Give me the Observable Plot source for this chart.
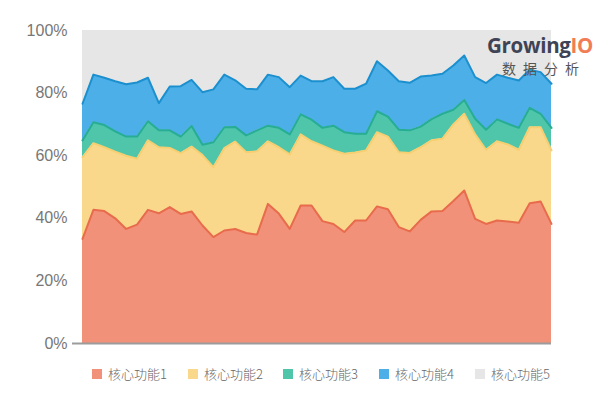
<!DOCTYPE html>
<html><head><meta charset="utf-8">
<script src="https://cdn.jsdelivr.net/npm/d3@7"></script>
<script src="https://cdn.jsdelivr.net/npm/@observablehq/plot@0.6"></script>
<style>
body{margin:0;background:#fff;}
#wrap{position:relative;width:599px;height:394px;overflow:hidden;background:#fff;}
#chart{position:absolute;left:0;top:0;}
#legend{position:absolute;left:0;top:364px;width:599px;height:20px;font-family:"Noto Sans CJK SC","Noto Sans",sans-serif;font-size:13px;font-weight:300;color:#666;}
.item{position:absolute;top:0;height:20px;line-height:20px;white-space:nowrap;}
.sw{display:inline-block;width:10px;height:10px;vertical-align:middle;margin-right:6px;position:relative;top:-1px;}
#logo{position:absolute;left:487px;top:31px;font-family:"Open Sans","Lato",sans-serif;}
#logo .g{font-size:20.5px;font-weight:700;color:#3e4456;letter-spacing:-0.3px;line-height:28px;}
#logo .g span{color:#f07d55;}
#logo .s{font-family:"Noto Sans CJK SC",sans-serif;font-size:14px;color:#555;letter-spacing:7px;margin-left:15px;line-height:18px;}
</style></head><body>
<div id="wrap"><div id="chart"></div><div id="legend"></div>
<div id="logo"><div class="g">Growing<span>IO</span></div><div class="s">数据分析</div></div>
</div>
<script>
const seriesNames = ["核心功能1","核心功能2","核心功能3","核心功能4","核心功能5"];
const s1 = [33.4,42.7,42.3,40.0,36.6,38.0,42.7,41.6,43.6,41.4,42.2,37.7,34.0,36.1,36.6,35.3,34.8,44.6,41.5,36.6,44.1,44.1,39.1,38.2,35.6,39.3,39.3,43.8,42.9,37.2,35.8,39.5,42.2,42.3,45.5,48.9,39.8,38.2,39.3,39.0,38.6,44.8,45.4,38.2];
const s2 = [26.1,21.3,20.4,21.3,23.4,21.0,22.2,21.1,18.9,19.4,20.7,22.5,22.3,26.3,27.9,25.8,26.6,20.0,21.2,23.8,22.7,20.5,24.1,23.5,25.0,21.7,22.4,23.7,23.2,23.9,25.1,23.2,22.7,23.1,24.5,24.5,27.0,23.7,25.3,24.6,23.3,24.3,23.7,23.5];
const s3 = [5.4,6.7,7.1,6.5,6.1,7.1,6.1,5.4,5.6,5.3,6.6,3.3,8.0,6.7,4.7,5.4,6.7,5.0,6.2,6.4,6.4,6.9,5.7,7.9,6.9,6.0,5.3,6.7,6.4,7.2,7.2,6.6,6.8,8.0,4.7,4.4,5.0,6.4,7.0,6.6,7.0,6.2,4.3,7.2];
const s4 = [11.7,15.2,15.1,16.0,16.7,17.3,13.9,8.7,14.0,16.1,14.7,16.8,16.9,16.8,14.9,14.9,13.1,16.3,16.2,15.1,12.4,12.3,14.9,15.5,13.9,14.4,16.0,16.0,14.7,15.5,15.2,16.0,13.9,12.8,14.1,14.2,13.3,14.9,14.3,14.7,15.1,12.2,13.3,14.1];
const s5 = [23.4,14.1,15.1,16.2,17.2,16.6,15.1,23.2,17.9,17.8,15.8,19.7,18.8,14.1,15.9,18.6,18.8,14.1,14.9,18.1,14.4,16.2,16.2,14.9,18.6,18.6,17.0,9.8,12.8,16.2,16.7,14.7,14.4,13.8,11.2,8.0,14.9,16.8,14.1,15.1,16.0,12.5,13.3,17.0];
const yTicks = [0,20,40,60,80,100];
const fillColors = ["#f1917a","#fad88b","#4fc6a9","#4cafe7","#e6e6e6"];
const lineColors = ["#e86b4c","#f6cf72","#26ad93","#1c90cf","none"];

const allSeries = [s1,s2,s3,s4,s5];
const data = [];
s1.forEach((_, i) => allSeries.forEach((arr, k) => data.push({i, series: seriesNames[k], value: arr[i], line: lineColors[k]})));

const chart = Plot.plot({
  width: 599, height: 352,
  marginTop: 30, marginBottom: 9, marginLeft: 82, marginRight: 48,
  x: {domain: [0, s1.length - 1], axis: null},
  y: {domain: [0, 100], ticks: yTicks, tickFormat: d => d + "%", tickSize: 0, tickPadding: 15, label: null},
  color: {domain: seriesNames, range: fillColors},
  style: {fontSize: "16px", color: "#777", fontFamily: "'Liberation Sans', Arial, sans-serif", background: "transparent"},
  marks: [
    Plot.areaY(data, {x: "i", y: "value", z: "series", fill: "series"}),
    Plot.lineY(data, Plot.stackY2({x: "i", y: "value", z: "series", stroke: {value: "line", scale: null}, strokeWidth: 2})),
    Plot.ruleY([0], {stroke: "#9c9c9c", strokeWidth: 2, insetLeft: -10})
  ]
});
document.getElementById("chart").appendChild(chart);

const legendX = [92, 188, 283, 379, 475];
const legend = document.getElementById("legend");
seriesNames.forEach((name, k) => {
  const it = document.createElement("div");
  it.className = "item";
  it.style.left = legendX[k] + "px";
  it.innerHTML = `<span class="sw" style="background:${fillColors[k]}"></span>${name}`;
  legend.appendChild(it);
});
</script>
</body></html>
